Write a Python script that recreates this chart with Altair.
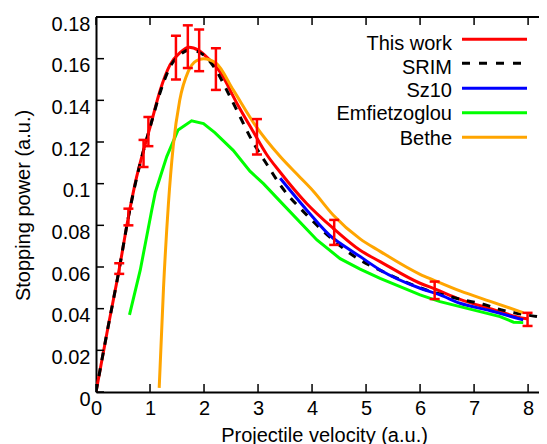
import altair as alt
import pandas as pd

# ---------------- data ----------------
# This work (red line)
work_v = [0, 0.2, 0.43, 0.6, 0.75, 0.88, 1.0, 1.19, 1.37, 1.56, 1.72, 1.9, 2.08, 2.3, 2.6,
          2.91, 3.16, 3.41, 3.9, 4.39, 4.89, 5.26, 6.0, 6.27, 6.74, 7.3, 7.91, 8.0]
work_S = [0, 0.028, 0.059, 0.084, 0.103, 0.116, 0.127, 0.145, 0.157, 0.163, 0.1655, 0.164,
          0.160, 0.1535, 0.139, 0.125, 0.114, 0.1055, 0.0905, 0.0786, 0.068, 0.0626, 0.0522,
          0.0495, 0.0445, 0.040, 0.0354, 0.0350]
# This work error bars
err_v = [0.43, 0.6, 0.88, 0.97, 1.48, 1.70, 1.91, 2.22, 2.98, 4.41, 6.27, 7.99]
err_lo = [0.0567, 0.080, 0.108, 0.118, 0.150, 0.1555, 0.154, 0.145, 0.114, 0.0706, 0.0446, 0.0317]
err_hi = [0.0618, 0.088, 0.121, 0.132, 0.171, 0.176, 0.174, 0.165, 0.131, 0.0826, 0.053, 0.038]
# SRIM (black dashed)
srim_v = [0, 0.2, 0.43, 0.6, 0.88, 1.0, 1.19, 1.37, 1.56, 1.74, 1.99, 2.2, 2.48, 2.67, 2.85,
          3.22, 3.41, 3.9, 4.39, 4.7, 5.44, 6.0, 6.43, 6.8, 7.17, 7.51, 7.79, 8.25, 8.4]
srim_S = [0, 0.028, 0.059, 0.084, 0.116, 0.127, 0.144, 0.156, 0.162, 0.1642, 0.1618, 0.1554,
          0.1418, 0.132, 0.1226, 0.107, 0.0994, 0.085, 0.073, 0.0666, 0.0562, 0.0500, 0.0466,
          0.0442, 0.0421, 0.0394, 0.0378, 0.0358, 0.0350]
# Sz10 (blue)
sz_v = [3.41, 3.9, 4.39, 4.52, 4.89, 5.26, 6.0, 6.37, 6.74, 7.3, 7.91]
sz_S = [0.1026, 0.0874, 0.0738, 0.0714, 0.065, 0.0586, 0.0498, 0.0466, 0.0426, 0.039, 0.0346]
# Emfietzoglou (green)
emf_v = [0.62, 0.82, 1.03, 1.1, 1.31, 1.52, 1.77, 1.99, 2.2, 2.54, 2.85, 3.1, 3.41, 4.09,
         4.52, 4.89, 5.26, 6.0, 6.37, 6.74, 7.11, 7.48, 7.73, 7.91]
emf_S = [0.037, 0.0586, 0.087, 0.096, 0.113, 0.1258, 0.1302, 0.1288, 0.1245, 0.116, 0.106,
         0.100, 0.0915, 0.073, 0.064, 0.059, 0.0545, 0.0466, 0.0434, 0.041, 0.0386, 0.0362,
         0.0335, 0.0333]
# Bethe (orange)
bethe_v = [1.17, 1.25, 1.34, 1.43, 1.55, 1.71, 1.86, 1.99, 2.23, 2.54, 2.95, 3.41, 3.78, 4.02,
           4.39, 4.89, 5.26, 6.0, 6.27, 6.74, 7.3, 7.91]
bethe_S = [0.002, 0.05, 0.09, 0.118, 0.140, 0.154, 0.159, 0.160, 0.1577, 0.145, 0.128, 0.113,
           0.103, 0.0965, 0.085, 0.0735, 0.0675, 0.0565, 0.0535, 0.0485, 0.0435, 0.0381]

x_ticks = [0, 1, 2, 3, 4, 5, 6, 7, 8]
y_ticks = [0, 0.02, 0.04, 0.06, 0.08, 0.1, 0.12, 0.14, 0.16, 0.18]

legend_names = ["This work", "SRIM", "Sz10", "Emfietzoglou", "Bethe"]
legend_colors = ["#ff0000", "#000000", "#0000ff", "#00ff00", "#ffa500"]

# ---------------- layout ----------------
W, H = 451, 375
FONT = "Liberation Sans"
xs = alt.Scale(domain=[0, 8.35], nice=False, zero=False)
ys = alt.Scale(domain=[0, 0.18], nice=False, zero=False)

XAX = alt.Axis(values=x_ticks, format="d", ticks=False, tickSize=0, domain=True,
               domainColor="black", domainWidth=2, labelFontSize=20,
               labelColor="black", labelFont=FONT, labelPadding=6, grid=False,
               labelFlush=False, labelOverlap=False,
               title="Projectile velocity (a.u.)", titleFont=FONT, titleFontSize=20,
               titleFontWeight="normal", titleColor="black", titleX=228, titleY=49,
               titleBaseline="alphabetic", titleAlign="center")
YAX = alt.Axis(values=y_ticks, format="~g", ticks=False, tickSize=0, domain=True,
               domainColor="black", domainWidth=2, labelFontSize=20,
               labelColor="black", labelFont=FONT, labelPadding=6, labelOffset=7,
               grid=False, labelFlush=False, labelOverlap=False,
               title="Stopping power (a.u.)", titleFont=FONT, titleFontSize=20,
               titleFontWeight="normal", titleColor="black", titleAngle=270,
               titleX=-67, titleY=188, titleBaseline="alphabetic", titleAlign="center")


def X(field="v"):
    return alt.X(f"{field}:Q", scale=xs, axis=XAX)


def Y(field="S"):
    return alt.Y(f"{field}:Q", scale=ys, axis=YAX)


def line_layer(v, s, color, dash=None, smooth=True):
    df = pd.DataFrame({"v": v, "S": s})
    kw = dict(color=color, strokeWidth=3, clip=True)
    if smooth:
        kw["interpolate"] = "monotone"
    if dash:
        kw["strokeDash"] = dash
    return alt.Chart(df).mark_line(**kw).encode(x=X(), y=Y())


layers = []
layers.append(line_layer(work_v, work_S, legend_colors[0]))
layers.append(line_layer(srim_v, srim_S, legend_colors[1], dash=[8, 8]))
layers.append(line_layer(sz_v, sz_S, legend_colors[2]))
layers.append(line_layer(emf_v, emf_S, legend_colors[3], smooth=False))
layers.append(line_layer(bethe_v, bethe_S, legend_colors[4]))

# error bars
err_df = pd.DataFrame({"v": err_v, "lo": err_lo, "hi": err_hi})
layers.append(alt.Chart(err_df).mark_rule(color="#ff0000", strokeWidth=2.5).encode(
    x=X(), y=Y("lo"), y2="hi:Q"))
for col in ["lo", "hi"]:
    layers.append(alt.Chart(err_df).mark_rule(color="#ff0000", strokeWidth=2.5,
                                              xOffset=-5, x2Offset=5).encode(
        x=X(), x2="v:Q", y=Y(col)))

# inward tick marks
xt = pd.DataFrame({"v": x_ticks})
yt = pd.DataFrame({"S": y_ticks})
layers.append(alt.Chart(xt).mark_rule(color="black", strokeWidth=1.5).encode(
    x=X(), y=alt.value(H), y2=alt.value(H - 8)))
layers.append(alt.Chart(xt).mark_rule(color="black", strokeWidth=1.5).encode(
    x=X(), y=alt.value(0), y2=alt.value(8)))
layers.append(alt.Chart(yt).mark_rule(color="black", strokeWidth=1.5).encode(
    y=Y(), x=alt.value(0), x2=alt.value(8)))
layers.append(alt.Chart(yt).mark_rule(color="black", strokeWidth=1.5).encode(
    y=Y(), x=alt.value(W - 8), x2=alt.value(W)))

# top frame line
one = pd.DataFrame({"a": [0]})
layers.append(alt.Chart(one).mark_rule(color="black", strokeWidth=2).encode(
    x=alt.value(0), x2=alt.value(W), y=alt.value(0)))

# legend (text right-aligned, line sample on the right)
text_base = [33, 57, 80, 103, 127.5]
line_y = [22.3, 46.3, 71.3, 95.7, 120.3]
for name, color, tb, ly in zip(legend_names, legend_colors, text_base, line_y):
    layers.append(alt.Chart(one).mark_text(align="right", baseline="alphabetic", fontSize=20,
                                           font=FONT, color="black").encode(
        x=alt.value(356), y=alt.value(tb), text=alt.value(name)))
    kw = dict(color=color, strokeWidth=3)
    if name == "SRIM":
        kw["strokeDash"] = [8, 9]
    layers.append(alt.Chart(one).mark_rule(**kw).encode(
        x=alt.value(366), x2=alt.value(431), y=alt.value(ly)))

chart = alt.layer(*layers).properties(
    width=W, height=H,
    autosize=alt.AutoSizeParams(type="none"),
    padding={"left": 88, "top": 9, "right": -8, "bottom": 52},
).configure_view(stroke=None).configure(font=FONT, background="white")

chart.save("out.html", embed_options={"renderer": "svg", "actions": False})
